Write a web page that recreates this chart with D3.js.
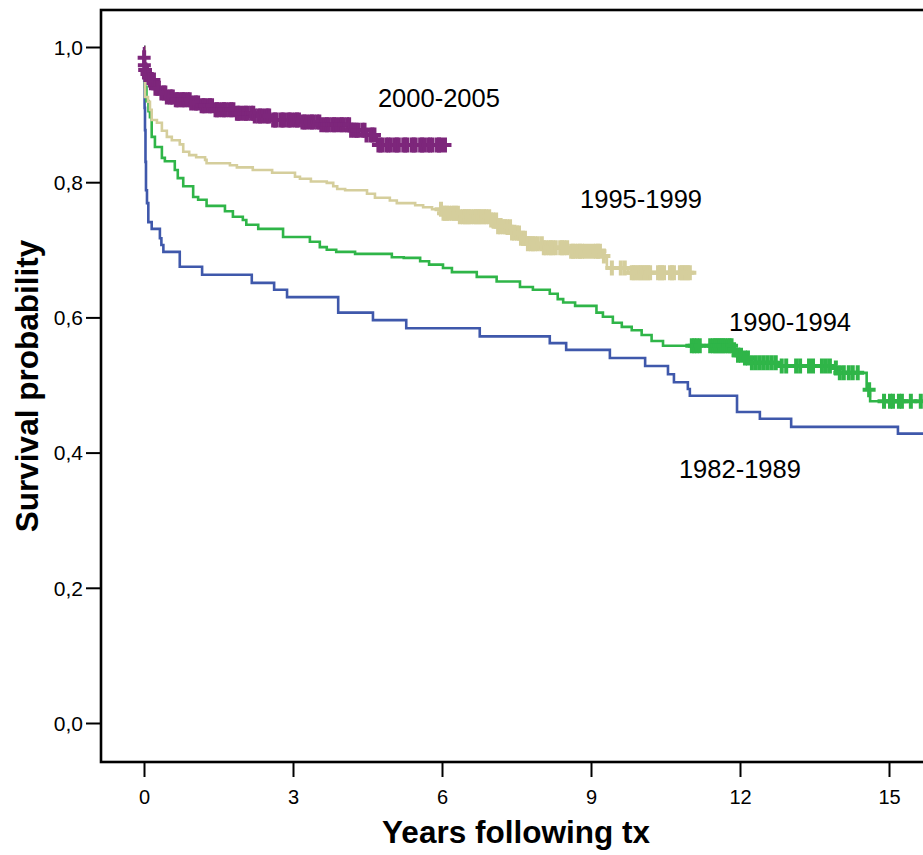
<!DOCTYPE html>
<html>
<head>
<meta charset="utf-8">
<script src="https://cdn.jsdelivr.net/npm/d3@7"></script>
<style>
  html, body { margin: 0; padding: 0; background: #fff; }
  svg { display: block; font-family: "Liberation Sans", Arial, Helvetica, sans-serif; }
</style>
</head>
<body>
<svg id="chart" width="923" height="855"></svg>
<script>
// ---------- DATA ----------
const xTickValues = [0, 3, 6, 9, 12, 15];
const xTickLabels = ["0", "3", "6", "9", "12", "15"];
const yTickValues = [0, 0.2, 0.4, 0.6, 0.8, 1.0];
const yTickLabels = ["0,0", "0,2", "0,4", "0,6", "0,8", "1,0"];
const cohorts = ["1982-1989", "1990-1994", "1995-1999", "2000-2005"];

// Kaplan-Meier step points (time in years, survival)
const time1982 = [0, 0.005, 0.012, 0.02, 0.03, 0.04, 0.06, 0.087, 0.155, 0.32, 0.35, 0.39, 0.72, 1.17, 2.17, 2.62, 2.88, 3.91, 4.61, 5.28, 6.76, 8.17, 8.50, 9.38, 10.09, 10.55, 10.67, 10.95, 10.99, 11.94, 12.40, 13.03, 15.18, 16.0];
const surv1982 = [1.0, 0.95, 0.91, 0.877, 0.83, 0.788, 0.769, 0.741, 0.731, 0.717, 0.707, 0.697, 0.675, 0.663, 0.651, 0.641, 0.630, 0.607, 0.596, 0.584, 0.572, 0.562, 0.552, 0.540, 0.528, 0.516, 0.504, 0.494, 0.484, 0.460, 0.450, 0.438, 0.428, 0.428];
const cens1982 = [];

const time1990 = [0, 0.01, 0.02, 0.05, 0.09, 0.12, 0.155, 0.22, 0.36, 0.42, 0.62, 0.68, 0.79, 0.99, 1.09, 1.26, 1.63, 1.79, 1.99, 2.06, 2.30, 2.80, 3.34, 3.54, 3.68, 3.87, 4.25, 4.99, 5.23, 5.56, 5.74, 6.02, 6.20, 6.70, 7.10, 7.57, 7.83, 8.17, 8.33, 8.44, 8.68, 9.11, 9.24, 9.44, 9.62, 9.82, 10.02, 10.22, 10.45, 11.84, 11.90, 12.06, 12.20, 12.76, 13.87, 13.95, 14.55, 14.62, 16.0];
const surv1990 = [1.0, 0.97, 0.941, 0.92, 0.905, 0.896, 0.867, 0.852, 0.836, 0.831, 0.818, 0.806, 0.794, 0.778, 0.774, 0.765, 0.757, 0.749, 0.744, 0.737, 0.731, 0.719, 0.712, 0.704, 0.700, 0.697, 0.694, 0.689, 0.688, 0.683, 0.678, 0.673, 0.667, 0.660, 0.653, 0.645, 0.641, 0.635, 0.627, 0.622, 0.617, 0.607, 0.601, 0.592, 0.586, 0.581, 0.574, 0.565, 0.558, 0.552, 0.544, 0.540, 0.533, 0.528, 0.525, 0.518, 0.493, 0.476, 0.476];
const cens1990 = [11.03, 11.08, 11.13, 11.19, 11.40, 11.46, 11.50, 11.54, 11.58, 11.62, 11.66, 11.70, 11.75, 11.79, 11.83, 11.88, 11.96, 12.02, 12.10, 12.16, 12.24, 12.32, 12.40, 12.48, 12.56, 12.64, 12.72, 12.84, 12.93, 13.13, 13.21, 13.39, 13.47, 13.65, 13.73, 13.81, 13.93, 14.01, 14.09, 14.19, 14.27, 14.37, 14.60, 14.90, 15.02, 15.08, 15.20, 15.26, 15.44, 15.64];

const time1995 = [0, 0.01, 0.02, 0.08, 0.12, 0.155, 0.26, 0.36, 0.46, 0.56, 0.72, 0.79, 0.91, 1.05, 1.23, 1.26, 1.73, 1.87, 2.19, 2.58, 3.04, 3.14, 3.36, 3.68, 3.81, 3.89, 4.05, 4.49, 4.65, 4.95, 5.09, 5.46, 5.62, 5.80, 6.00, 6.36, 6.97, 7.13, 7.40, 7.57, 7.73, 8.03, 8.58, 9.24, 9.32, 9.75, 11.1];
const surv1995 = [1.0, 0.96, 0.926, 0.919, 0.907, 0.892, 0.888, 0.876, 0.867, 0.862, 0.856, 0.845, 0.840, 0.837, 0.833, 0.828, 0.825, 0.822, 0.818, 0.814, 0.808, 0.805, 0.801, 0.799, 0.794, 0.790, 0.788, 0.783, 0.777, 0.773, 0.769, 0.766, 0.763, 0.760, 0.754, 0.749, 0.744, 0.734, 0.725, 0.717, 0.709, 0.703, 0.698, 0.691, 0.673, 0.666, 0.666];
const cens1995 = [5.98, 6.03, 6.06, 6.10, 6.14, 6.20, 6.24, 6.28, 6.32, 6.36, 6.42, 6.46, 6.50, 6.54, 6.58, 6.64, 6.68, 6.72, 6.76, 6.80, 6.85, 6.89, 6.95, 6.99, 7.03, 7.09, 7.13, 7.17, 7.23, 7.27, 7.31, 7.37, 7.41, 7.45, 7.51, 7.55, 7.59, 7.63, 7.67, 7.73, 7.79, 7.83, 7.87, 7.93, 8.01, 8.05, 8.09, 8.15, 8.19, 8.23, 8.29, 8.38, 8.42, 8.46, 8.52, 8.60, 8.64, 8.68, 8.74, 8.78, 8.82, 8.88, 8.96, 9.04, 9.10, 9.14, 9.18, 9.26, 9.42, 9.60, 9.68, 9.82, 9.86, 9.90, 9.95, 9.99, 10.03, 10.07, 10.11, 10.15, 10.19, 10.35, 10.39, 10.43, 10.47, 10.59, 10.63, 10.67, 10.79, 10.83, 10.87, 10.91, 10.95, 10.99];

const time2000 = [0, 0.002, 0.006, 0.012, 0.04, 0.07, 0.12, 0.22, 0.32, 0.46, 0.62, 0.93, 1.13, 1.43, 1.83, 2.23, 2.54, 3.14, 3.54, 4.15, 4.45, 4.69, 6.12];
const surv2000 = [1.0, 0.984, 0.973, 0.966, 0.96, 0.955, 0.951, 0.939, 0.932, 0.926, 0.922, 0.917, 0.913, 0.907, 0.902, 0.898, 0.892, 0.889, 0.885, 0.877, 0.870, 0.855, 0.855];
const cens2000 = [0.003, 0.007, 0.014, 0.03, 0.06, 0.09, 0.12, 0.16, 0.2, 0.23, 0.27, 0.3, 0.35, 0.4, 0.43, 0.46, 0.52, 0.55, 0.58, 0.64, 0.67, 0.7, 0.76, 0.79, 0.82, 0.88, 0.92, 0.95, 1.02, 1.05, 1.09, 1.16, 1.2, 1.23, 1.3, 1.33, 1.37, 1.44, 1.47, 1.51, 1.58, 1.61, 1.65, 1.72, 1.76, 1.8, 1.87, 1.9, 1.94, 2.01, 2.05, 2.09, 2.16, 2.2, 2.23, 2.3, 2.34, 2.38, 2.45, 2.49, 2.52, 2.6, 2.64, 2.67, 2.75, 2.79, 2.82, 2.9, 2.93, 2.97, 3.04, 3.08, 3.12, 3.19, 3.23, 3.27, 3.34, 3.38, 3.42, 3.49, 3.53, 3.57, 3.64, 3.68, 3.72, 3.79, 3.83, 3.87, 3.94, 3.98, 4.02, 4.09, 4.13, 4.17, 4.24, 4.28, 4.32, 4.4, 4.44, 4.48, 4.56, 4.6, 4.64, 4.72, 4.76, 4.8, 4.88, 4.92, 4.97, 5.05, 5.09, 5.13, 5.22, 5.26, 5.3, 5.39, 5.43, 5.47, 5.56, 5.6, 5.64, 5.72, 5.76, 5.81, 5.9, 5.94, 5.98, 6.06];

// ---------- LAYOUT / STYLE ----------
const W = 923, H = 855;
const frame = { left: 101, top: 10, right: 940, bottom: 762 };
const colors = { "1982-1989": "#3f58ab", "1990-1994": "#2fb548", "1995-1999": "#d5ce9c", "2000-2005": "#7d267b" };
const series = [
  { name: "1982-1989", t: time1982, s: surv1982, c: cens1982 },
  { name: "1990-1994", t: time1990, s: surv1990, c: cens1990 },
  { name: "1995-1999", t: time1995, s: surv1995, c: cens1995 },
  { name: "2000-2005", t: time2000, s: surv2000, c: cens2000 }
];
// label anchor positions in data units (years, survival)
const labelPos = {
  "2000-2005": [4.71, 0.911],
  "1995-1999": [8.78, 0.762],
  "1990-1994": [11.78, 0.580],
  "1982-1989": [10.77, 0.362]
};

const x = d3.scaleLinear().domain([0, 15]).range([144, 889]);
const y = d3.scaleLinear().domain([0, 1]).range([723, 47]);

const svg = d3.select("#chart");
svg.append("rect").attr("width", W).attr("height", H).attr("fill", "#fff");

svg.append("defs").append("clipPath").attr("id", "plotclip")
  .append("rect").attr("x", frame.left).attr("y", frame.top)
  .attr("width", frame.right - frame.left).attr("height", frame.bottom - frame.top);

const plot = svg.append("g").attr("clip-path", "url(#plotclip)");

const line = d3.line().x(d => x(d[0])).y(d => y(d[1])).curve(d3.curveStepAfter);

series.forEach(sr => {
  const pts = sr.t.map((t, i) => [t, sr.s[i]]);
  const g = plot.append("g");
  g.append("path").datum(pts).attr("d", line)
    .attr("fill", "none").attr("stroke", colors[sr.name]).attr("stroke-width", 2.6)
    .attr("stroke-linejoin", "miter");
  const survAt = t => sr.s[Math.max(0, d3.bisectRight(sr.t, t) - 1)];
  g.selectAll("path.cens").data(sr.c).join("path").attr("class", "cens")
    .attr("d", t => {
      const cx = x(t), cy = y(survAt(t));
      return `M${cx - 6.5},${cy}H${cx + 6.5}M${cx},${cy - 7.5}V${cy + 7.5}`;
    })
    .attr("fill", "none").attr("stroke", colors[sr.name]).attr("stroke-width", 4);
});

// frame
svg.append("rect").attr("x", frame.left).attr("y", frame.top)
  .attr("width", frame.right - frame.left).attr("height", frame.bottom - frame.top)
  .attr("fill", "none").attr("stroke", "#000").attr("stroke-width", 2.6);

// y axis
const yAxis = d3.axisLeft(y).tickValues(yTickValues).tickSize(15).tickPadding(3)
  .tickFormat((d, i) => yTickLabels[i]);
const gy = svg.append("g").attr("transform", `translate(${frame.left},0)`).call(yAxis);
gy.select(".domain").remove();
gy.selectAll(".tick line").attr("stroke", "#000").attr("stroke-width", 2);
gy.selectAll(".tick text").attr("fill", "#000").attr("font-size", 21)
  .attr("font-family", "'Liberation Sans', Arial, sans-serif").attr("dy", "0.35em");

// x axis
const xAxis = d3.axisBottom(x).tickValues(xTickValues).tickSize(15).tickPadding(13)
  .tickFormat((d, i) => xTickLabels[i]);
const gx = svg.append("g").attr("transform", `translate(0,${frame.bottom})`).call(xAxis);
gx.select(".domain").remove();
gx.selectAll(".tick line").attr("stroke", "#000").attr("stroke-width", 2);
gx.selectAll(".tick text").attr("fill", "#000").attr("font-size", 20)
  .attr("font-family", "'Liberation Sans', Arial, sans-serif");

// axis titles
svg.append("text").attr("x", 516).attr("y", 843).attr("text-anchor", "middle")
  .attr("font-size", 31.5).attr("font-weight", "bold").text("Years following tx");
svg.append("text").attr("transform", "translate(38,386) rotate(-90)").attr("text-anchor", "middle")
  .attr("font-size", 31.5).attr("font-weight", "bold").text("Survival probability");

// series labels
cohorts.forEach(name => {
  const p = labelPos[name];
  svg.append("text").attr("x", x(p[0])).attr("y", y(p[1]))
    .attr("font-size", 25.5).attr("fill", "#000").text(name);
});
</script>
</body>
</html>
